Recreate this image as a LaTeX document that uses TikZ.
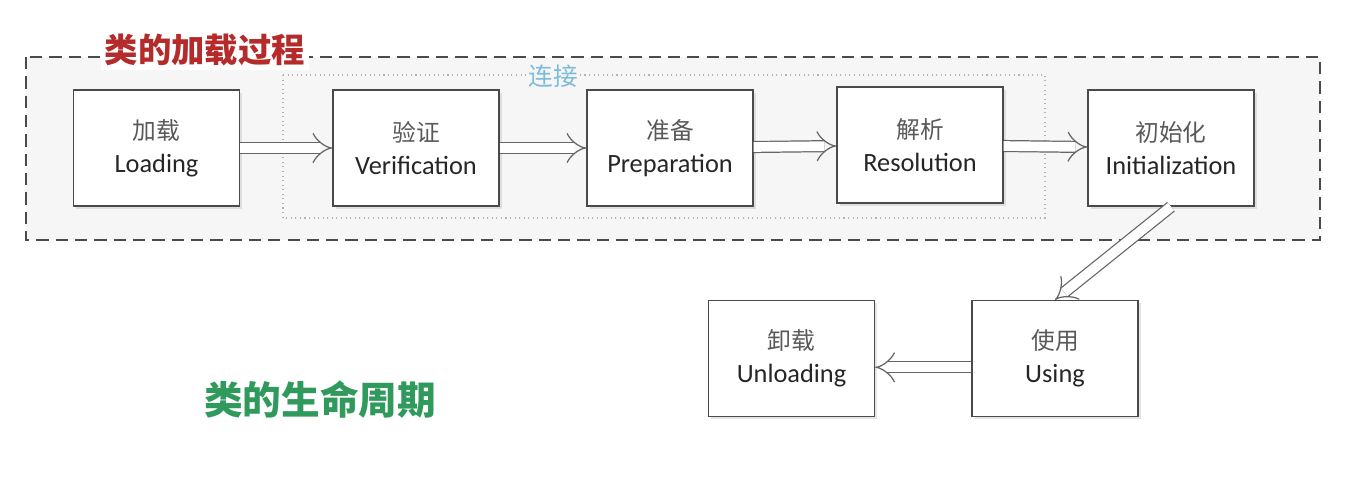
\documentclass[tikz,border=0pt]{standalone}
\usepackage{fontspec}
\setmainfont{Carlito}
\newfontfamily\cjk{Noto Sans CJK SC}
\usetikzlibrary{arrows.meta,shadows}
\definecolor{boxline}{HTML}{4A4A4A}
\definecolor{titlered}{HTML}{B52A2A}
\definecolor{linkblue}{HTML}{7DBBD9}
\definecolor{lifegreen}{HTML}{2F9A5C}
\definecolor{outerfill}{HTML}{F6F6F6}
\tikzset{
  stage/.style={draw=boxline, line width=0.8pt, fill=white, minimum width=3.32cm, minimum height=2.32cm,
    align=center, font=\fontsize{15}{19}\selectfont, text=black!85,
    drop shadow={opacity=0.2, shadow xshift=1.5pt, shadow yshift=-1.5pt}},
  flow/.style={draw=boxline!85, line width=0.7pt, double=white, double distance=5.5pt, -{Implies[length=6pt]}},
}
\newcommand{\zh}[1]{{\cjk\fontsize{13.5}{19}\selectfont\color{black!65}#1}}
\begin{document}
\begin{tikzpicture}[x=0.02cm, y=-0.02cm]
\useasboundingbox (0,0) rectangle (1350,488);
\fill[white] (0,0) rectangle (1350,488);
% outer dashed frame
\draw[boxline, line width=0.8pt, dash pattern=on 7pt off 4pt, fill=outerfill] (26,57) rectangle (1320,240);
% inner dotted frame
\draw[gray!60, line width=0.6pt, dotted] (283,75) rectangle (1045,218);
\node[fill=white, inner sep=2pt, text=titlered, font=\cjk\bfseries\fontsize{19}{22}\selectfont] (title) at (205,50) {类的加载过程};
\node[fill=outerfill, inner sep=1pt, text=linkblue, font=\cjk\fontsize{14}{16}\selectfont] (link) at (553,76) {连接};
% stages
\node[stage] (load) at (156.5,148) {\zh{加载}\\Loading};
\node[stage] (verif) at (416,148) {\zh{验证}\\Verification};
\node[stage] (prep) at (670,148) {\zh{准备}\\Preparation};
\node[stage] (resol) at (920,145) {\zh{解析}\\Resolution};
\node[stage] (init) at (1171,148) {\zh{初始化}\\Initialization};
\node[stage] (unload) at (791.5,358.5) {\zh{卸载}\\Unloading};
\node[stage] (using) at (1055,358.5) {\zh{使用}\\Using};
% arrows
\draw[flow] (load) -- (verif);
\draw[flow] (verif) -- (prep);
\draw[flow] (prep) -- (resol);
\draw[flow] (resol) -- (init);
\draw[flow] (init.south) -- (using.north);
\draw[flow] ([yshift=-5pt]using.west) -- ([yshift=-5pt]unload.east);
% lifecycle label
\node[text=lifegreen, font=\cjk\bfseries\fontsize{22}{26}\selectfont] (life) at (320,400) {类的生命周期};
\end{tikzpicture}
\end{document}
